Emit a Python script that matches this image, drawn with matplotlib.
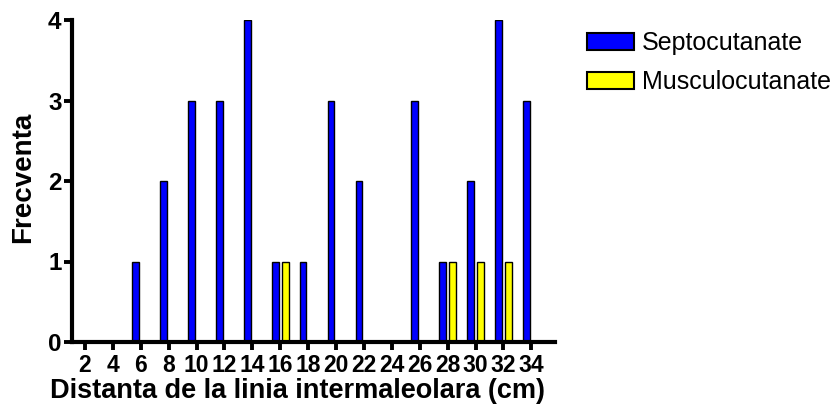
import matplotlib
matplotlib.use("Agg")
import matplotlib.pyplot as plt
import numpy as np

plt.rcParams['font.family'] = ['Liberation Sans', 'DejaVu Sans']

categories = ["2", "4", "6", "8", "10", "12", "14", "16", "18", "20", "22", "24", "26", "28", "30", "32", "34"]
septocutanate = [0, 0, 1, 2, 3, 3, 4, 1, 1, 3, 2, 0, 3, 1, 2, 4, 3]
musculocutanate = [0, 0, 0, 0, 0, 0, 0, 1, 0, 0, 0, 0, 0, 1, 1, 1, 0]
series_names = ["Septocutanate", "Musculocutanate"]
yticks = [0, 1, 2, 3, 4]

fig = plt.figure(figsize=(8.4, 4.16), dpi=100)
W, H = 840, 416
ax = fig.add_axes([72 / W, 74 / H, 483 / W, 322 / H])

x = np.arange(len(categories))
bw = 0.24
off = 0.18
ax.bar(x - off, septocutanate, width=bw, color="#0000FF", edgecolor="black",
       linewidth=1.0, label=series_names[0], zorder=2)
ax.bar(x + off, musculocutanate, width=bw, color="#FFFF00", edgecolor="black",
       linewidth=1.0, label=series_names[1], zorder=2)

ax.set_xlim(-0.466, 16.85)
ax.set_ylim(0, 4)
ax.set_xticks(x)
ax.set_xticklabels(categories)
ax.set_yticks(yticks)
ax.set_yticklabels([str(v) for v in yticks])

for s in ["top", "right"]:
    ax.spines[s].set_visible(False)
for s in ["left", "bottom"]:
    ax.spines[s].set_linewidth(3)
    ax.spines[s].set_zorder(3)
    ax.spines[s].set_capstyle("projecting")

ax.tick_params(axis="x", direction="out", length=6, width=2.8, pad=3, labelsize=16.5)
ax.tick_params(axis="y", direction="out", length=6, width=2.8, pad=1.5, labelsize=17.5)
for t in ax.get_xticklabels() + ax.get_yticklabels():
    t.set_fontweight("bold")
for t in ax.xaxis.get_major_ticks():
    t.tick1line.set_solid_capstyle("round")

ax.set_ylabel("Frecventa", fontsize=20, fontweight="bold")
ax.yaxis.set_label_coords(-36 / 483, 0.51)
fig.text(298 / W, 1 - 391 / H, "Distanta de la linia intermaleolara (cm)",
         fontsize=19.5, fontweight="bold", ha="center", va="center")

leg = ax.legend(loc="upper left", bbox_to_anchor=(587 / W, 1 - 31 / H),
                bbox_transform=fig.transFigure, frameon=False, fontsize=18,
                handlelength=1.88, handleheight=0.68, handletextpad=0.32,
                labelspacing=0.6, borderpad=0, borderaxespad=0)
for p in leg.get_patches():
    p.set_linewidth(1.5)

fig.savefig("out.png", dpi=100)
